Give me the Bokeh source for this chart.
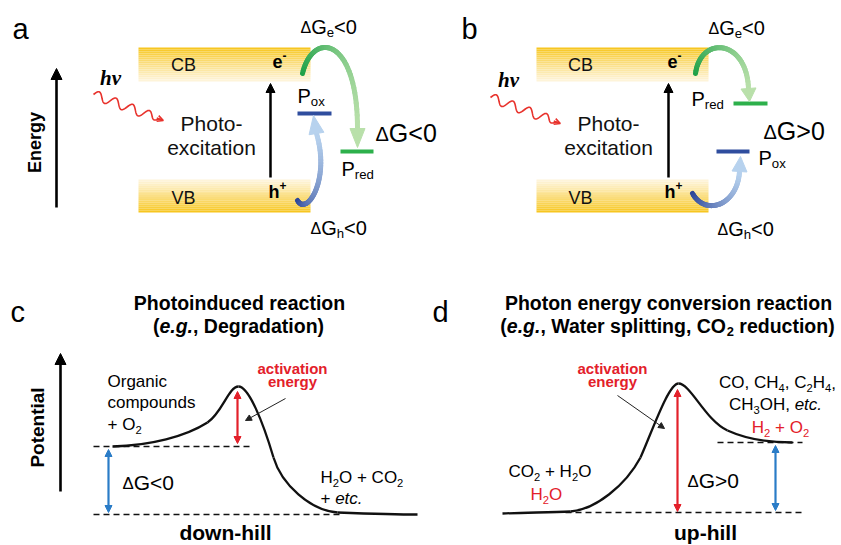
import numpy as np
from bokeh.plotting import figure
from bokeh.models import Range1d, Arrow, NormalHead, OpenHead
from bokeh.core.properties import value
from bokeh.embed import file_html
from bokeh.resources import INLINE

FONT = "Liberation Sans"
SERIF = "Liberation Serif"

# ---------------- data (image pixel coordinates) ----------------
PANEL_LABELS = ["a", "b", "c", "d"]
PANEL_LABEL_X = [12, 461, 10, 432]
PANEL_LABEL_Y = [28, 28, 311, 311]

BAND_LEFT = [138, 536]
BAND_RIGHT = [310, 708]
CB_Y = [47, 81]
VB_Y = [179, 212]
BAND_TEXT_X = [183, 580]
CB_TEXT_Y = 64
VB_TEXT_Y = 197

EXC_ARROW_X = [270, 668]
EXC_ARROW_Y = [177, 83]

POX_X = [[297, 331], [716, 749]]
POX_Y = [113, 151]
PRED_X = [[340, 373], [733, 767]]
PRED_Y = [151, 103]

GREEN_ARCS = [[(302, 73), (312, 30), (357, 35), (357, 128)],
              [(695, 73), (700, 35), (746, 38), (748, 88)]]
GREEN_TIPS = [(357, 147), (749, 101)]
BLUE_ARCS = [[(297, 200), (306, 216), (330, 180), (316, 133)],
             [(692, 193), (705, 216), (737, 205), (739, 171)]]
BLUE_TIPS = [(313, 115), (740, 156)]

WAVES = [[(93, 94), (160, 119)], [(490, 97), (557, 122)]]
HV_POS = [(110, 77), (508, 79)]
PHOTO_X = [211, 608]

ENERGY_ARROW = [(56, 207), (56, 68)]
POTENTIAL_ARROW = [(60, 491), (60, 353)]

CURVE_C = [[(112, 446), (150, 445), (185, 436), (207, 422)],
           [(207, 422), (222, 412), (228, 386), (238, 386)],
           [(238, 386), (248, 386), (262, 420), (273, 457)],
           [(273, 457), (281, 484), (310, 510), (337, 512)],
           [(337, 512), (365, 513), (395, 514), (417, 514)]]
CURVE_D = [[(502, 513), (525, 512), (550, 512), (570, 511)],
           [(570, 511), (595, 509), (625, 485), (640, 457)],
           [(640, 457), (652, 430), (668, 383), (678, 383)],
           [(678, 383), (690, 383), (705, 420), (727, 430)],
           [(727, 430), (749, 440), (770, 442), (792, 442)]]

DASH_LINES = [[(93, 446), (253, 446)], [(93, 514), (340, 514)],
              [(717, 442), (802, 442)], [(565, 512), (802, 512)]]
RED_DOUBLE = [[(237, 391), (237, 443)], [(677, 389), (677, 511)]]
BLUE_DOUBLE = [[(108, 449), (108, 512)], [(775, 445), (775, 510)]]
POINTERS = [[(285, 398), (245, 420)], [(617, 395), (664, 428)]]

# ---------------- colours ----------------
GOLD = np.array([247, 196, 22])
PALE = np.array([254, 245, 222])
GREEN_DARK = np.array([28, 160, 70])
GREEN_LIGHT = np.array([185, 224, 170])
BLUE_DARK = np.array([40, 66, 150])
BLUE_LIGHT = np.array([183, 210, 238])
RED = "#e3202a"
BLUE = "#2a7cc7"


def hexc(c):
    c = np.clip(np.round(c), 0, 255).astype(int)
    return "#%02x%02x%02x" % tuple(c)


W, H = 840, 544
p = figure(width=W, height=H, x_range=Range1d(0, W), y_range=Range1d(H, 0),
           output_backend="svg", toolbar_location=None, min_border=0)
p.axis.visible = False
p.grid.visible = False
p.outline_line_color = None
p.background_fill_color = "white"
p.border_fill_color = "white"

# ---------------- text helper ----------------
WN = {' ': 278, '+': 584, ',': 278, '-': 333, '.': 278, '<': 584, '>': 584, '(': 333, ')': 333,
      'A': 667, 'B': 667, 'C': 722, 'D': 722, 'E': 667, 'G': 778, 'H': 722, 'O': 778, 'P': 667,
      'V': 667, 'W': 944, 'a': 556, 'b': 556, 'c': 500, 'd': 556, 'e': 556, 'f': 278, 'g': 556,
      'h': 556, 'i': 222, 'k': 500, 'l': 222, 'm': 833, 'n': 556, 'o': 556, 'p': 556, 'r': 333,
      's': 500, 't': 278, 'u': 556, 'v': 500, 'x': 500, 'y': 500, 'Δ': 667}
WB = {' ': 278, '(': 333, ')': 333, ',': 278, '.': 278, '-': 333, '+': 584,
      'C': 722, 'D': 722, 'E': 667, 'O': 778, 'P': 667, 'W': 944,
      'a': 556, 'b': 611, 'c': 556, 'd': 611, 'e': 556, 'f': 333, 'g': 611, 'h': 611, 'i': 278,
      'k': 556, 'l': 278, 'm': 889, 'n': 611, 'o': 611, 'p': 611, 'r': 389, 's': 556, 't': 333,
      'u': 611, 'v': 556, 'w': 778, 'x': 556, 'y': 556}


def tw(s, size, bold):
    tab = WB if bold else WN
    return sum(tab.get(ch, 556) for ch in s) * size / 1000.0


def rich(x, y, segs, size, align="left", color="black", bold=False, font=FONT):
    pieces = []
    for seg in segs:
        t, k = (seg, "n") if isinstance(seg, str) else seg
        if k in ("s", "p"):
            s = size * 0.66
        elif k == "D":
            s = size * 0.8
        else:
            s = size
        pieces.append((t, k, s, tw(t, s, bold)))
    total = sum(pc[3] for pc in pieces)
    if align == "center":
        x0 = x - total / 2
    elif align == "right":
        x0 = x - total
    else:
        x0 = x
    for t, k, s, w in pieces:
        if k == "s":
            by = y + 0.3 * size
        elif k == "p":
            by = y - 0.33 * size
        elif k == "D":
            by = y + 0.04 * size
        else:
            by = y
        style = "bold" if bold else "normal"
        if k == "i":
            style = "bold italic" if bold else "italic"
        stripped = t.lstrip(" ")
        lead = tw(t[:len(t) - len(stripped)], s, bold)
        p.text(x=[x0 + lead], y=[by], text=[stripped], text_font=value(font),
               text_font_size=f"{s:.1f}px", text_font_style=style, text_color=color,
               text_align="left", text_baseline="middle")
        x0 += w


def bez(P, t):
    P = np.array(P, dtype=float)
    t = t[:, None]
    return ((1 - t) ** 3) * P[0] + 3 * ((1 - t) ** 2) * t * P[1] + 3 * (1 - t) * t * t * P[2] + (t ** 3) * P[3]


def grad_arc(P, tip, c0, c1, lw=5, hw=7.5):
    n = 40
    pts = bez(P, np.linspace(0, 1, n + 1))
    xs = [[pts[i, 0], pts[i + 1, 0]] for i in range(n)]
    ys = [[pts[i, 1], pts[i + 1, 1]] for i in range(n)]
    cols = [hexc(c0 + (c1 - c0) * ((i + 0.5) / n) ** 0.9) for i in range(n)]
    p.multi_line(xs, ys, line_color=cols, line_width=lw, line_cap="round")
    end = np.array(P[3], dtype=float)
    tp = np.array(tip, dtype=float)
    d = tp - end
    d /= np.hypot(*d)
    perp = np.array([-d[1], d[0]])
    l = end + perp * hw
    r = end - perp * hw
    p.patch([l[0], tp[0], r[0]], [l[1], tp[1], r[1]], fill_color=hexc(c1), line_color=hexc(c1))


def arrow(a, b, color="black", lw=2.5, size=10, double=False):
    head = lambda: NormalHead(size=size, fill_color=color, line_color=color, line_width=1)
    kw = dict(end=head(), x_start=a[0], y_start=a[1], x_end=b[0], y_end=b[1],
              line_color=color, line_width=lw)
    if double:
        kw["start"] = head()
    p.add_layout(Arrow(**kw))


# ---------------- panels a & b: band diagrams ----------------
nstrip = 17
for i in range(2):
    for (y0, y1), dark_top in ((CB_Y, True), (VB_Y, False)):
        edges = np.linspace(y0, y1, nstrip + 1)
        cols = []
        for j in range(nstrip):
            t = (j + 0.5) / nstrip
            if not dark_top:
                t = 1 - t
            cols.append(hexc(GOLD + (PALE - GOLD) * t ** 0.85))
        p.quad(left=BAND_LEFT[i], right=BAND_RIGHT[i], top=edges[:-1], bottom=edges[1:],
               fill_color=cols, line_color=None)
    p.text(x=[BAND_TEXT_X[i]], y=[CB_TEXT_Y], text=["CB"], text_font=value(FONT),
           text_font_size="18px", text_align="center", text_baseline="middle", text_color="#111111")
    p.text(x=[BAND_TEXT_X[i]], y=[VB_TEXT_Y], text=["VB"], text_font=value(FONT),
           text_font_size="18px", text_align="center", text_baseline="middle", text_color="#111111")
    arrow((EXC_ARROW_X[i], EXC_ARROW_Y[0]), (EXC_ARROW_X[i], EXC_ARROW_Y[1]), lw=2.5, size=9)
    p.line(POX_X[i], [POX_Y[i]] * 2, line_color="#2f4d9e", line_width=4)
    p.line(PRED_X[i], [PRED_Y[i]] * 2, line_color="#2db04b", line_width=4)
    grad_arc(GREEN_ARCS[i], GREEN_TIPS[i], GREEN_DARK, GREEN_LIGHT)
    grad_arc(BLUE_ARCS[i], BLUE_TIPS[i], BLUE_DARK, BLUE_LIGHT)
    (wx0, wy0), (wx1, wy1) = WAVES[i]
    L = np.hypot(wx1 - wx0, wy1 - wy0)
    ux, uy = (wx1 - wx0) / L, (wy1 - wy0) / L
    tt = np.linspace(0, 1, 160)
    off = 4.5 * np.sin(2 * np.pi * 4 * tt) * np.minimum(1, (1 - tt) * 8)
    wx = wx0 + ux * L * tt + uy * off
    wy = wy0 + uy * L * tt - ux * off
    p.line(wx, wy, line_color="#e8322c", line_width=1.6)
    p.add_layout(Arrow(end=OpenHead(size=6, line_color="#e8322c", line_width=1.6),
                       x_start=wx1 - ux * 4, y_start=wy1 - uy * 4, x_end=wx1 + ux * 3,
                       y_end=wy1 + uy * 3, line_color="#e8322c", line_width=1.6))
    p.text(x=[HV_POS[i][0]], y=[HV_POS[i][1]], text=["hν"], text_font=value(SERIF),
           text_font_size="21px", text_font_style="bold italic", text_align="center",
           text_baseline="middle")
    p.text(x=[PHOTO_X[i]], y=[123], text=["Photo-"], text_font=value(FONT), text_font_size="21px",
           text_align="center", text_baseline="middle", text_color="#111111")
    p.text(x=[PHOTO_X[i]], y=[147], text=["excitation"], text_font=value(FONT),
           text_font_size="21px", text_align="center", text_baseline="middle", text_color="#111111")

# carriers
rich(272, 61, ["e", ("-", "p")], 18, bold=True)
rich(268, 191, ["h", ("+", "p")], 18, bold=True)
rich(667, 61, ["e", ("-", "p")], 18, bold=True)
rich(664, 191, ["h", ("+", "p")], 18, bold=True)

# panel a labels
rich(300, 26, [("Δ", "D"), "G", ("e", "s"), "<0"], 20)
rich(297, 95, ["P", ("ox", "s")], 20)
rich(375, 132, [("Δ", "D"), "G<0"], 25)
rich(341, 168, ["P", ("red", "s")], 20)
rich(310, 227, [("Δ", "D"), "G", ("h", "s"), "<0"], 20)

# panel b labels
rich(708, 27, [("Δ", "D"), "G", ("e", "s"), "<0"], 20)
rich(691, 98, ["P", ("red", "s")], 20)
rich(763, 130, [("Δ", "D"), "G>0"], 25)
rich(758, 157, ["P", ("ox", "s")], 20)
rich(717, 228, [("Δ", "D"), "G", ("h", "s"), "<0"], 20)

# energy axis
arrow(ENERGY_ARROW[0], ENERGY_ARROW[1], lw=2.6, size=11)
p.text(x=[34], y=[142], text=["Energy"], text_font=value(FONT), text_font_size="18px",
       text_font_style="bold", angle=np.pi / 2, text_align="center", text_baseline="middle")

# ---------------- panels c & d: reaction coordinate ----------------
for segs in (CURVE_C, CURVE_D):
    for s in segs:
        p.bezier(x0=s[0][0], y0=s[0][1], x1=s[3][0], y1=s[3][1], cx0=s[1][0], cy0=s[1][1],
                 cx1=s[2][0], cy1=s[2][1], line_color="#111111", line_width=2.3)

for (a, b) in DASH_LINES:
    p.line([a[0], b[0]], [a[1], b[1]], line_color="#111111", line_width=1.4, line_dash="6 4")

for (a, b) in RED_DOUBLE:
    arrow(a, b, color=RED, lw=2.2, size=7, double=True)
for (a, b) in BLUE_DOUBLE:
    arrow(a, b, color=BLUE, lw=2.2, size=7, double=True)
for (a, b) in POINTERS:
    arrow(a, b, color="#222222", lw=1, size=6)

arrow(POTENTIAL_ARROW[0], POTENTIAL_ARROW[1], lw=2.6, size=11)
p.text(x=[37], y=[427], text=["Potential"], text_font=value(FONT), text_font_size="19px",
       text_font_style="bold", angle=np.pi / 2, text_align="center", text_baseline="middle")

# titles
rich(239, 302, ["Photoinduced reaction"], 19.5, align="center", bold=True)
rich(238, 325, ["(", ("e.g.", "i"), ", Degradation)"], 19.5, align="center", bold=True)
rich(668, 302, ["Photon energy conversion reaction"], 19.5, align="center", bold=True)
rich(667, 325, ["(", ("e.g.", "i"), ", Water splitting, CO", ("2", "s"), " reduction)"], 19.5,
     align="center", bold=True)

# panel c texts
rich(107, 381, ["Organic"], 17)
rich(107, 402, ["compounds"], 17)
rich(107, 424, ["+ O", ("2", "s")], 17)
rich(292, 368, ["activation"], 15, align="center", color=RED, bold=True)
rich(292, 381, ["energy"], 15, align="center", color=RED, bold=True)
rich(122, 482, [("Δ", "D"), "G<0"], 21)
rich(320, 477, ["H", ("2", "s"), "O + CO", ("2", "s")], 17)
rich(320, 498, ["+ ", ("etc.", "i")], 17)
rich(225, 532, ["down-hill"], 21, align="center", bold=True)

# panel d texts
rich(612, 368, ["activation"], 15, align="center", color=RED, bold=True)
rich(612, 381, ["energy"], 15, align="center", color=RED, bold=True)
rich(508, 471, ["CO", ("2", "s"), " + H", ("2", "s"), "O"], 17)
rich(530, 494, ["H", ("2", "s"), "O"], 17, color=RED)
rich(777, 382, ["CO, CH", ("4", "s"), ", C", ("2", "s"), "H", ("4", "s"), ","], 17, align="center")
rich(775, 404, ["CH", ("3", "s"), "OH, ", ("etc.", "i")], 17, align="center")
rich(780, 427, ["H", ("2", "s"), " + O", ("2", "s")], 17, align="center", color=RED)
rich(687, 480, [("Δ", "D"), "G>0"], 21)
rich(705, 532, ["up-hill"], 21, align="center", bold=True)

# panel letters
for lab, lx, ly in zip(PANEL_LABELS, PANEL_LABEL_X, PANEL_LABEL_Y):
    p.text(x=[lx], y=[ly], text=[lab], text_font=value(FONT), text_font_size="29px",
           text_align="left", text_baseline="middle")

open("out.html", "w").write(file_html(p, INLINE))
